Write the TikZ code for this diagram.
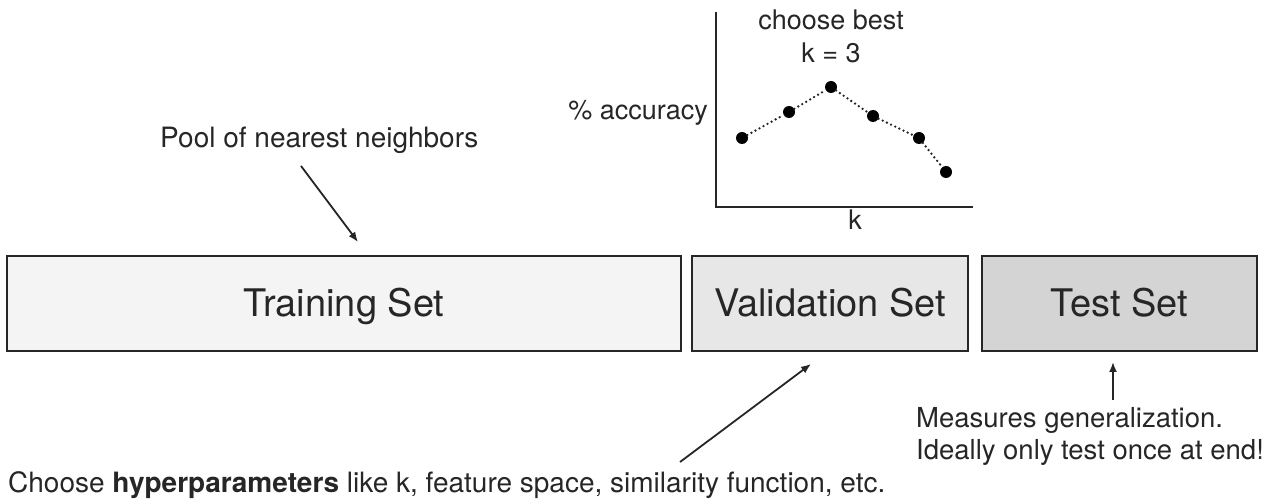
\documentclass[tikz,border=0pt]{standalone}
\usepackage{fontspec}
\setmainfont{TeX Gyre Heros}
\usetikzlibrary{arrows.meta}
\definecolor{ink}{HTML}{262626}
\definecolor{trainfill}{HTML}{F4F4F4}
\definecolor{valfill}{HTML}{E7E7E7}
\definecolor{testfill}{HTML}{D4D4D4}
\begin{document}
\begin{tikzpicture}[x=1pt,y=-1pt,
  setbox/.style={draw=ink, line width=2.2pt, minimum height=95pt, inner sep=0pt,
    font=\fontsize{38}{40}\selectfont, text=ink, text height=27pt, text depth=0pt},
  note/.style={inner sep=0pt, text=ink, font=\fontsize{28}{31}\selectfont},
  plotlabel/.style={inner sep=0pt, text=ink, font=\fontsize{27}{30}\selectfont},
  pointer/.style={draw=ink, line width=1.8pt, -{Latex[length=10pt,width=8pt]}},
  datapt/.style={circle, fill=black, minimum size=12pt, inner sep=0pt},
  trend/.style={draw=ink, line width=2.6pt, line cap=round, dash pattern=on 0pt off 4.6pt},
  axisline/.style={draw=ink, line width=2pt}
]
\path[use as bounding box] (0,0) rectangle (1272,502);

% the three data splits
\node[setbox, fill=trainfill, minimum width=674pt] (train) at (344,303.5) {Training Set};
\node[setbox, fill=valfill, minimum width=276pt] (val) at (830,303.5) {Validation Set};
\node[setbox, fill=testfill, minimum width=275pt] (test) at (1119.5,303.5) {Test Set};

% annotation for the training split
\node[note, anchor=base west] (pool) at (160,148) {Pool of nearest neighbors};
\coordinate (poolTail) at (301,166);
\coordinate (poolTip) at (358,242);
\draw[pointer] (poolTail) -- (poolTip);

% accuracy versus k
\coordinate (ytop) at (716,12);
\coordinate (origin) at (716,207);
\coordinate (xend) at (973,207);
\draw[axisline] (ytop) -- (origin) -- (xend);
\node[plotlabel, anchor=base east] (ylab) at (708,120) {\% accuracy};
\node[plotlabel, anchor=base] (xlab) at (855,230) {k};
\node[plotlabel, anchor=base] (best1) at (831,30) {choose best};
\node[plotlabel, anchor=base] (best2) at (831,63) {k = 3};
\node[datapt] (p1) at (742,138) {};
\node[datapt] (p2) at (789,112) {};
\node[datapt] (p3) at (831,87) {};
\node[datapt] (p4) at (873,116) {};
\node[datapt] (p5) at (919,138) {};
\node[datapt] (p6) at (946,172) {};
\draw[trend] (p1) -- (p2) -- (p3) -- (p4) -- (p5) -- (p6);

% annotation for the validation split
\node[note, anchor=base west] (hyper) at (8,493)
  {Choose \textbf{hyperparameters} like k, feature space, similarity function, etc.};
\coordinate (hypTail) at (680,462);
\coordinate (valTip) at (811,364);
\draw[pointer] (hypTail) -- (valTip);

% annotation for the test split
\node[note, anchor=base west, font=\fontsize{27.5}{31}\selectfont] (gen1) at (916,428) {Measures generalization.};
\node[note, anchor=base west, font=\fontsize{27.5}{31}\selectfont] (gen2) at (916,459) {Ideally only test once at end!};
\coordinate (testTail) at (1113,400);
\coordinate (testTip) at (1113,362);
\draw[pointer] (testTail) -- (testTip);
\end{tikzpicture}
\end{document}
